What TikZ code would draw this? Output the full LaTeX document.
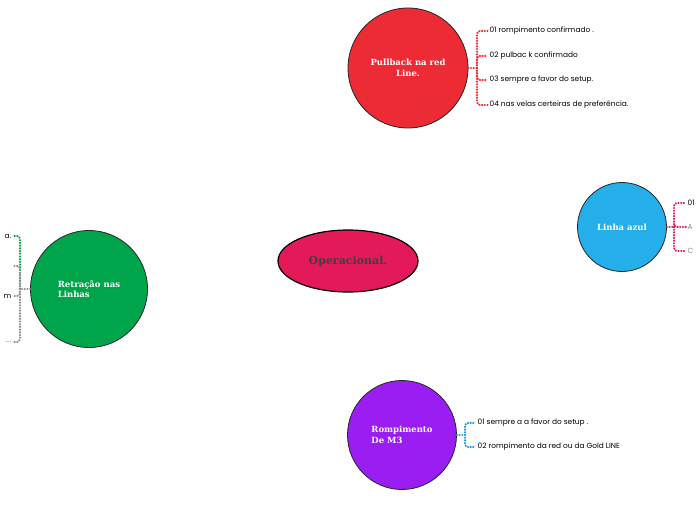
\documentclass[tikz,border=0pt]{standalone}
\usepackage{fontspec}
\setmainfont{Poppins}
\newfontfamily\headfont{DejaVu Serif}
\usetikzlibrary{shapes.geometric,positioning}
\definecolor{pbred}{HTML}{EC2B35}
\definecolor{opcrimson}{HTML}{E3195A}
\definecolor{azul}{HTML}{24AEEA}
\definecolor{verde}{HTML}{00A44A}
\definecolor{roxo}{HTML}{9A1DF2}
\definecolor{rosa}{HTML}{E5195F}
\definecolor{cinza}{HTML}{8C8C8C}
\definecolor{azullink}{HTML}{1E9BE0}
\tikzset{
  topic/.style={circle,draw=black!85,line width=0.8pt,inner sep=0pt,
    font=\headfont\bfseries\fontsize{8.5}{10.5}\selectfont,text=white,align=center},
  item/.style={inner sep=1.5pt,font=\fontsize{7.4}{8}\selectfont},
  dotlink/.style={line width=2.4pt,dash pattern=on 0.01pt off 2.7pt,
    line cap=round,rounded corners=3pt},
  every picture/.style={line cap=round,line join=round}
}
\begin{document}
\begin{tikzpicture}[x=1pt,y=-1pt]
  \useasboundingbox (0,0) rectangle (696,520);
  % central topic
  \node[ellipse,draw=black,line width=1.2pt,fill=opcrimson,minimum width=140pt,
    minimum height=62pt,font=\headfont\bfseries\fontsize{11}{12}\selectfont,
    text=black!75] (op) at (348,261) {Operacional.};

  % pullback
  \node[topic,fill=pbred,minimum size=120pt] (pb) at (408,68) {Pullback na red\\Line.};
  \coordinate (pbj) at (477,68);
  \node[item,anchor=west] (pb1) at (488,31) {01 rompimento confirmado .};
  \node[item,anchor=west] (pb2) at (488,56) {02 pulbac k confirmado};
  \node[item,anchor=west] (pb3) at (488,80) {03 sempre a favor do setup.};
  \node[item,anchor=west] (pb4) at (488,105) {04 nas velas certeiras de preferência.};
  \draw[dotlink,pbred] (pb.east) -- (pbj);
  \foreach \i in {1,...,4}
    \draw[dotlink,pbred] (pbj) |- (pb\i.west);

  % linha azul
  \node[topic,fill=azul,minimum size=89pt] (la) at (622,227) {Linha azul};
  \coordinate (laj) at (674,227);
  \node[item,anchor=west] (la1) at (686,203) {01};
  \node[item,anchor=west,text=cinza] (la2) at (686,227) {A};
  \node[item,anchor=west,text=cinza] (la3) at (686,251) {C};
  \draw[dotlink,rosa] (la.east) -- (laj);
  \foreach \i in {1,2,3}
    \draw[dotlink,rosa] (laj) |- (la\i.west);

  % retracao
  \node[topic,fill=verde,minimum size=117pt,align=left] (rl) at (89,289)
    {Retração nas\\Linhas};
  \coordinate (rlj) at (20,289);
  \node[item,anchor=east] (rl1) at (13,236) {a.};
  \node[item,anchor=east] (rl2) at (13,266) {\phantom{a}};
  \node[item,anchor=east] (rl3) at (13,296) {m};
  \node[item,anchor=east,text=cinza] (rl4) at (13,342) {....};
  \draw[dotlink,cinza] (rl.west) -- (rlj);
  \draw[dotlink,verde] (rlj) |- (rl1.east);
  \foreach \i in {2,3,4}
    \draw[dotlink,cinza] (rlj) |- (rl\i.east);

  % rompimento
  \node[topic,fill=roxo,minimum size=109pt,align=left] (rm) at (402,435)
    {Rompimento\\De M3};
  \coordinate (rmj) at (465,435);
  \node[item,anchor=west] (rm1) at (476,423) {01 sempre a a favor do setup .};
  \node[item,anchor=west] (rm2) at (476,447) {02 rompimento da red ou da Gold LINE};
  \draw[dotlink,azullink] (rm.east) -- (rmj);
  \foreach \i in {1,2}
    \draw[dotlink,azullink] (rmj) |- (rm\i.west);
\end{tikzpicture}
\end{document}
